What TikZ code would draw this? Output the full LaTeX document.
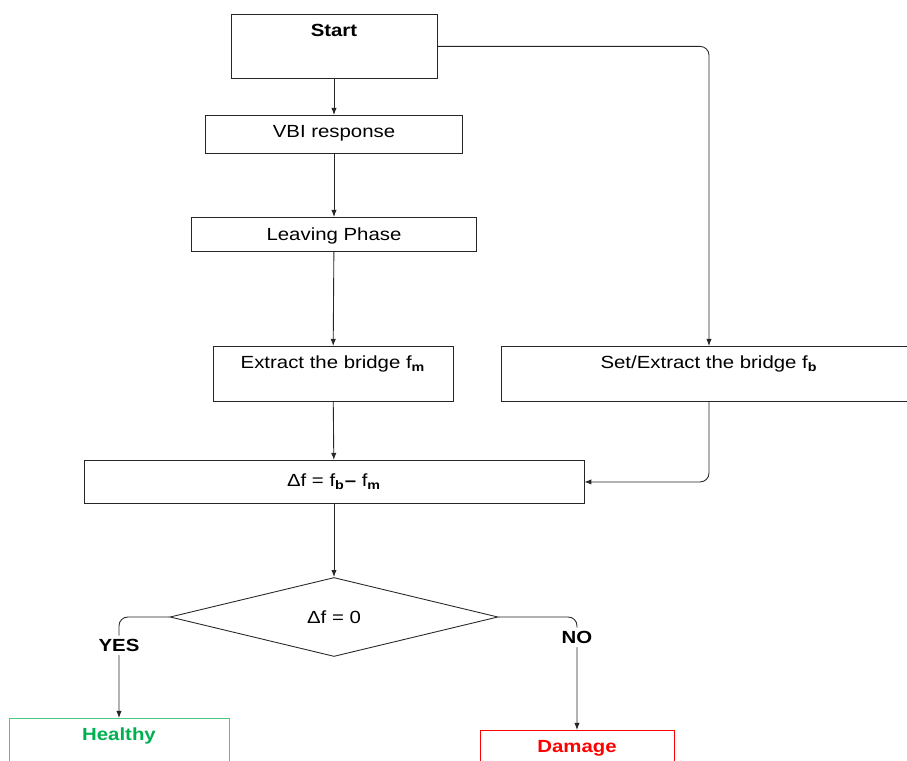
\documentclass[tikz,border=0pt]{standalone}
\usepackage{fontspec}
\setmainfont{Liberation Sans}[FakeStretch=1.16]
\usetikzlibrary{shapes.geometric,arrows.meta}
\definecolor{okgreen}{RGB}{0,176,80}
\definecolor{badred}{RGB}{255,0,0}

\begin{document}
\begin{tikzpicture}
  [x=0.02cm,y=-0.02cm,font=\fontsize{10}{12}\selectfont,
   every node/.style={inner sep=0pt},
   proc/.style={draw=black!85,line width=0.5pt,rectangle,anchor=north},
   flow/.style={draw=black!85,line width=0.5pt,-{Latex[length=4pt,width=3pt]},rounded corners=5pt}]
  \clip (0,0) rectangle (907,761);
  \node (start)[proc,minimum width=4.12cm,text height=0.44cm,text depth=0.84cm] at (334,14) {\textbf{Start}};
  \node (vbi)[proc,minimum width=5.14cm,text height=0.44cm,text depth=0.32cm] at (334,115) {VBI response};
  \node (leave)[proc,minimum width=5.7cm,text height=0.46cm,text depth=0.22cm] at (334,217) {Leaving Phase};
  \node (extract)[proc,minimum width=4.8cm,text height=0.44cm,text depth=0.66cm] at (333,346) {Extract the bridge f\textsubscript{\textbf{m}}};
  \node (set)[proc,minimum width=8.32cm,text height=0.44cm,text depth=0.66cm] at (709,346) {Set/Extract the bridge f\textsubscript{\textbf{b}}};
  \node (delta)[proc,minimum width=10cm,text height=0.52cm,text depth=0.34cm] at (334,460) {Δf = f\textsubscript{\textbf{b}}\textbf{–} f\textsubscript{\textbf{m}}};
  \node (diam)[draw=black!85,line width=0.5pt,diamond,minimum width=6.56cm,minimum height=1.58cm] at (334,617) {Δf = 0};
  \node (healthy)[proc,draw=okgreen!70,text=okgreen,minimum width=4.4cm,text height=0.44cm,text depth=1.2cm] at (119,718) {\textbf{Healthy}};
  \node (damage)[proc,draw=badred,text=badred,minimum width=3.88cm,text height=0.44cm,text depth=1.2cm] at (577,730) {\textbf{Damage}};

  \foreach \from/\to in {start/vbi,vbi/leave,leave/extract,extract/delta,delta/diam}
    \draw[flow] (\from) -- (\to);

  \draw[flow] (start.east) -| (set.north);
  \draw[flow] (set.south) |- (delta.east);
  \draw[flow] (diam.west) -| node[pos=0.64,fill=white,inner sep=2pt] (yes) {\textbf{YES}} (healthy.north);
  \draw[flow] (diam.east) -| node[pos=0.59,fill=white,inner sep=2pt] (no) {\textbf{NO}} (damage.north);

\end{tikzpicture}
\end{document}
